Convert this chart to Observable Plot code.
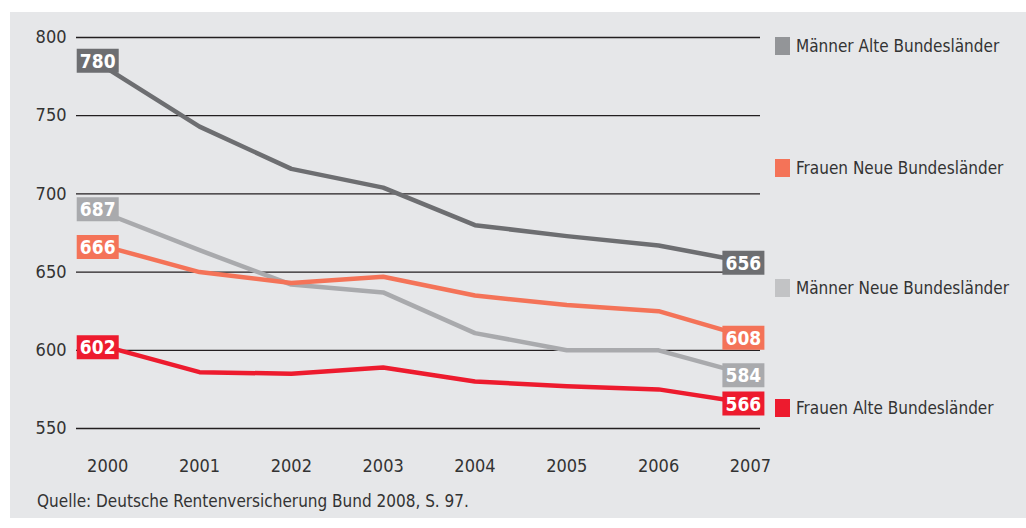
<!DOCTYPE html>
<html>
<head>
<meta charset="utf-8">
<script src="https://cdn.jsdelivr.net/npm/d3@7"></script>
<script src="https://cdn.jsdelivr.net/npm/@observablehq/plot@0.6"></script>
<style>
  html, body { margin: 0; padding: 0; background: #ffffff; }
  body { width: 1026px; height: 528px; position: relative; overflow: hidden;
         font-family: "DejaVu Sans Condensed", "DejaVu Sans", sans-serif; font-stretch: condensed; }
  #panel { position: absolute; left: 10px; top: 12px; width: 1016px; height: 506px; background: #e6e7e9; }
  #chart { position: absolute; left: 0; top: 0; }
  .leg { position: absolute; left: 765px; display: flex; align-items: center; font-size: 17px; color: #333; white-space: nowrap; }
  .leg span.sw { display: inline-block; width: 15px; height: 18px; margin-right: 6px; }
  #caption { position: absolute; left: 27px; top: 478px; font-size: 17px; color: #333; line-height: 22px; white-space: nowrap; }
</style>
</head>
<body>
<div id="panel">
  <div id="chart"></div>
  <div id="legend"></div>
  <div id="caption"></div>
</div>
<script>
// ---- data ----
const years = [2000, 2001, 2002, 2003, 2004, 2005, 2006, 2007];
const seriesNames = ["Männer Alte Bundesländer", "Frauen Neue Bundesländer", "Männer Neue Bundesländer", "Frauen Alte Bundesländer"];
const maennerAlte = [780, 743, 716, 704, 680, 673, 667, 656];
const frauenNeue  = [666, 650, 643, 647, 635, 629, 625, 608];
const maennerNeue = [687, 664, 642, 637, 611, 600, 600, 584];
const frauenAlte  = [602, 586, 585, 589, 580, 577, 575, 566];
const yTicks = [550, 600, 650, 700, 750, 800];
const caption = "Quelle: Deutsche Rentenversicherung Bund 2008, S. 97.";

// ---- styles ----
const lineColors   = ["#6d6e71", "#f47358", "#a9aaad", "#ed1b2e"];
const legendColors = ["#939598", "#f47358", "#c2c3c5", "#ed1b2e"];
const startDy = [-8, 0, -5, 0];
const legendTops = [24, 146, 266, 386];
const drawOrder = [0, 2, 1, 3];

const values = [maennerAlte, frauenNeue, maennerNeue, frauenAlte];
const data = [];
seriesNames.forEach((name, i) => years.forEach((yr, j) => data.push({series: name, year: yr, value: values[i][j]})));

const boxSymbol = { draw(ctx) { ctx.rect(-21, -12, 42, 24); } };

const labelMarks = [];
drawOrder.forEach(i => {
  const name = seriesNames[i];
  const first = data.filter(d => d.series === name && d.year === years[0]);
  const last = data.filter(d => d.series === name && d.year === years[years.length - 1]);
  for (const [pts, dx, dy] of [[first, -10, startDy[i]], [last, -7, 0]]) {
    labelMarks.push(Plot.dot(pts, {x: "year", y: "value", fill: "series", symbol: boxSymbol, r: 10, dx, dy}));
    labelMarks.push(Plot.text(pts, {x: "year", y: "value", text: d => String(d.value), fill: "white",
      fontWeight: "bold", fontSize: 19, dx, dy: dy + 1}));
  }
});

const chart = Plot.plot({
  width: 1016,
  height: 470,
  marginLeft: 66,
  marginRight: 266,
  marginTop: 25,
  marginBottom: 54,
  style: {fontFamily: "'DejaVu Sans Condensed', 'DejaVu Sans', sans-serif", fontSize: "19px", color: "#333", background: "transparent"},
  x: {type: "linear", domain: [1999.66, 2007.11]},
  y: {domain: [550, 800]},
  color: {domain: seriesNames, range: lineColors},
  marks: [
    Plot.ruleY(yTicks, {stroke: "#231f20", strokeWidth: 1.3}),
    Plot.axisY({ticks: yTicks, tickSize: 0, tickPadding: 10, fontSize: 18, label: null, fill: "#333"}),
    Plot.axisX({ticks: years, tickFormat: d => String(d), tickSize: 0, tickPadding: 31, fontSize: 18, label: null, fill: "#333"}),
    ...drawOrder.map(i => Plot.line(data.filter(d => d.series === seriesNames[i]),
      {x: "year", y: "value", stroke: "series", strokeWidth: 4.5, strokeLinejoin: "round"})),
    ...labelMarks
  ]
});
document.getElementById("chart").appendChild(chart);

const legend = document.getElementById("legend");
seriesNames.forEach((name, i) => {
  const el = document.createElement("div");
  el.className = "leg";
  el.style.top = legendTops[i] + "px";
  el.innerHTML = `<span class="sw" style="background:${legendColors[i]}"></span><span>${name}</span>`;
  legend.appendChild(el);
});
document.getElementById("caption").textContent = caption;
</script>
</body>
</html>
